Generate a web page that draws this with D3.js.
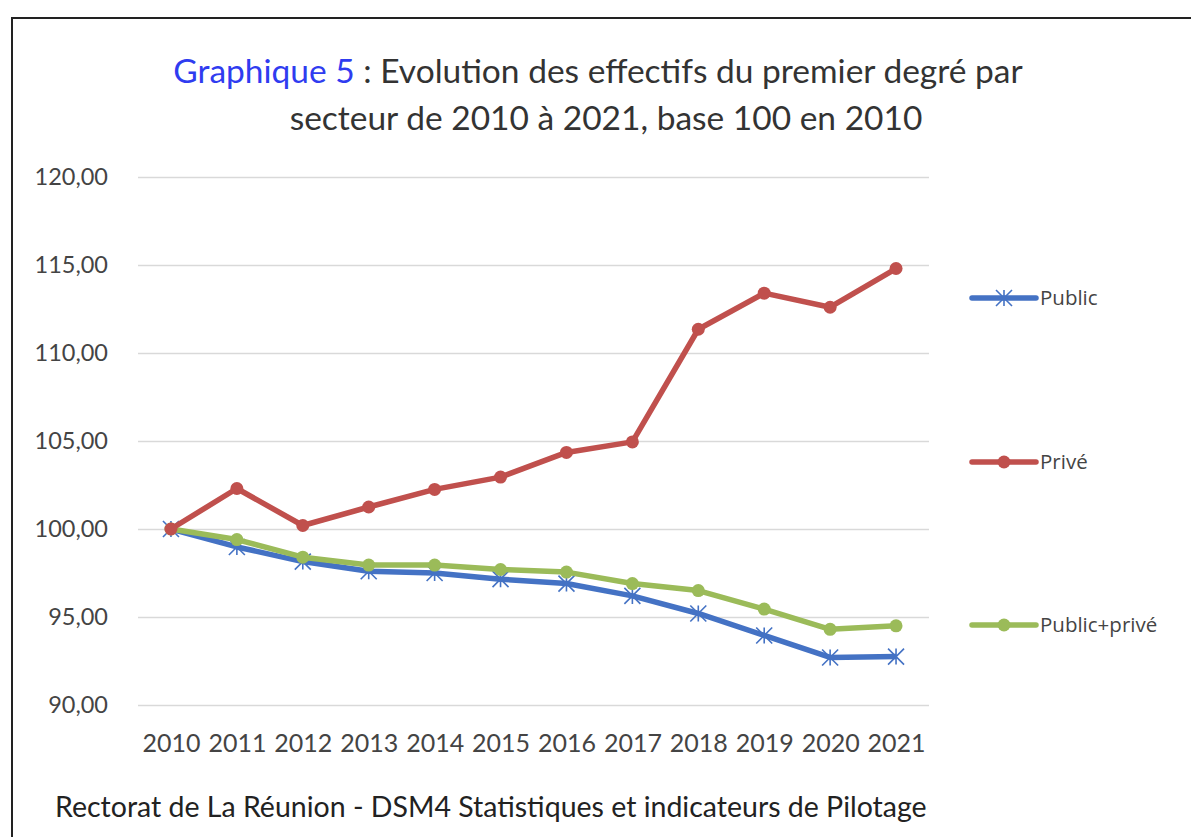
<!DOCTYPE html>
<html lang="fr">
<head>
<meta charset="utf-8"/>
<title>Graphique 5</title>
<script src="https://d3js.org/d3.v7.min.js"></script>
<style>
  html, body { margin: 0; padding: 0; background: #fff; }
  svg { display: block; font-family: Lato, "Open Sans", sans-serif; }
</style>
</head>
<body>
<svg id="chart" width="1191" height="837"></svg>
<script>
  const years = ["2010","2011","2012","2013","2014","2015","2016","2017","2018","2019","2020","2021"];
  const publicVals = [100, 98.98, 98.15, 97.6, 97.5, 97.15, 96.9, 96.2, 95.2, 93.95, 92.7, 92.75];
  const priveVals = [100, 102.3, 100.2, 101.25, 102.25, 102.95, 104.35, 104.95, 111.35, 113.4, 112.6, 114.8];
  const totalVals = [100, 99.4, 98.4, 97.95, 97.95, 97.7, 97.55, 96.9, 96.5, 95.45, 94.3, 94.5];
  const yTicks = [90, 95, 100, 105, 110, 115, 120];

  const series = [
    { name: "Public", values: publicVals, color: "#4472C4", marker: "star", legendY: 298 },
    { name: "Privé", values: priveVals, color: "#C0504D", marker: "circle", legendY: 462 },
    { name: "Public+privé", values: totalVals, color: "#9BBB59", marker: "circle", legendY: 625 }
  ];

  const svg = d3.select("#chart");

  // frame
  svg.append("rect")
    .attr("x", 12).attr("y", 18)
    .attr("width", 1200).attr("height", 900)
    .attr("fill", "none").attr("stroke", "#222").attr("stroke-width", 2);

  // title
  const title = svg.append("text")
    .attr("x", 598).attr("y", 83)
    .attr("text-anchor", "middle")
    .attr("font-size", 33.5)
    .attr("fill", "#333");
  title.append("tspan").attr("fill", "#2f3cf0").text("Graphique 5");
  title.append("tspan").text(" : Evolution des effectifs du premier degré par");
  svg.append("text")
    .attr("x", 606).attr("y", 130)
    .attr("text-anchor", "middle")
    .attr("font-size", 33.5)
    .attr("fill", "#333")
    .text("secteur de 2010 à 2021, base 100 en 2010");

  const x = d3.scalePoint().domain(years).range([138, 929]).padding(0.5);
  const y = d3.scaleLinear().domain([90, 120]).range([705, 177]);

  // grid + y labels
  const yAxis = svg.append("g")
    .attr("transform", "translate(138,0)")
    .call(d3.axisLeft(y).tickValues(yTicks).tickSize(-791)
      .tickFormat(d => d3.format(".2f")(d).replace(".", ",")));
  yAxis.select(".domain").remove();
  yAxis.selectAll("line").attr("stroke", "#d9d9d9").attr("stroke-width", 1.5);
  yAxis.selectAll("text")
    .attr("x", -30)
    .attr("font-size", 23.5)
    .attr("font-family", "Lato, sans-serif")
    .attr("fill", "#444");

  const xAxis = svg.append("g")
    .attr("transform", "translate(0,705)")
    .call(d3.axisBottom(x).tickSize(0));
  xAxis.select(".domain").remove();
  xAxis.selectAll("text")
    .attr("dy", 0).attr("y", 47)
    .attr("font-size", 25)
    .attr("font-family", "Lato, sans-serif")
    .attr("fill", "#444");

  const line = d3.line().x((d, i) => x(years[i])).y(d => y(d));

  function drawMarker(g, s, cx, cy) {
    if (s.marker === "circle") {
      g.append("circle").attr("cx", cx).attr("cy", cy).attr("r", 6.5).attr("fill", s.color);
    } else {
      const r = 8;
      const p = `M${cx - r},${cy - r}L${cx + r},${cy + r}M${cx - r},${cy + r}L${cx + r},${cy - r}M${cx},${cy - r}L${cx},${cy + r}`;
      g.append("path").attr("d", p).attr("stroke", s.color).attr("stroke-width", 1.6).attr("fill", "none");
    }
  }

  // public first, then total, privé on top
  [series[0], series[2], series[1]].forEach(s => {
    const g = svg.append("g");
    g.append("path")
      .attr("d", line(s.values))
      .attr("fill", "none")
      .attr("stroke", s.color)
      .attr("stroke-width", 5.5)
      .attr("stroke-linejoin", "round");
    s.values.forEach((v, i) => drawMarker(g, s, x(years[i]), y(v)));
  });

  // legend
  series.forEach(s => {
    const g = svg.append("g");
    g.append("line")
      .attr("x1", 972).attr("x2", 1036)
      .attr("y1", s.legendY).attr("y2", s.legendY)
      .attr("stroke", s.color).attr("stroke-width", 5.5).attr("stroke-linecap", "round");
    drawMarker(g, s, 1004, s.legendY);
    g.append("text")
      .attr("x", 1040).attr("y", s.legendY + 7)
      .attr("font-size", 20.5)
      .attr("font-family", "'Open Sans', sans-serif")
      .attr("fill", "#444")
      .text(s.name);
  });

  // source
  svg.append("text")
    .attr("x", 55).attr("y", 817)
    .attr("font-size", 28.5)
    .attr("fill", "#222")
    .text("Rectorat de La Réunion - DSM4 Statistiques et indicateurs de Pilotage");
</script>
</body>
</html>
